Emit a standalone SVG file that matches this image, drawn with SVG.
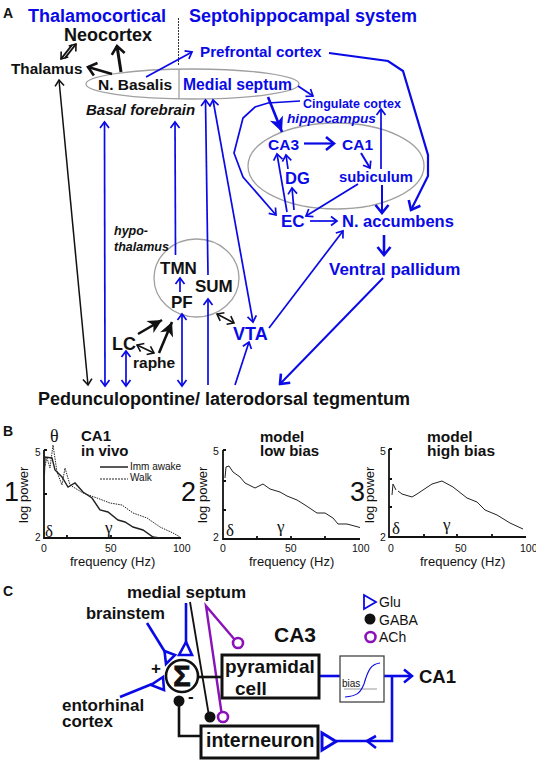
<svg xmlns="http://www.w3.org/2000/svg" width="536" height="763" viewBox="0 0 536 763">
<style>
text{font-family:"Liberation Sans",Arial,sans-serif;font-weight:700;fill:#111}
.b{fill:#0a0ae6}
.i{font-style:italic}
.n{font-weight:400}
.g{font-family:"Liberation Serif","Times New Roman",serif;font-weight:400;font-size:17px}
.l{fill:none;stroke:#0a0ae6;stroke-width:1.7}
.t{fill:none;stroke:#0a0ae6;stroke-width:2.6}
.k{fill:none;stroke:#111;stroke-width:1.5}
.kt{fill:none;stroke:#111;stroke-width:2.6}
.p{fill:none;stroke:#8a12b8;stroke-width:2.4}
.gr{fill:none;stroke:#a0a0a0;stroke-width:1.3}
.ax{fill:none;stroke:#111;stroke-width:1.8}
.cv{fill:none;stroke:#222;stroke-width:1}
.glu{fill:#fff;stroke:#0a0ae6;stroke-width:2.6}
.box{fill:#fff;stroke:#111;stroke-width:3}
</style>
<defs>
<marker id="ab" markerUnits="userSpaceOnUse" markerWidth="12" markerHeight="12" refX="10" refY="6" orient="auto-start-reverse"><path d="M4,1.5L10,6L4,10.5" fill="none" stroke="#0a0ae6" stroke-width="1.7"/></marker>
<marker id="abt" markerUnits="userSpaceOnUse" markerWidth="16" markerHeight="16" refX="14" refY="8" orient="auto-start-reverse"><path d="M6,1.5L14,8L6,14.5" fill="none" stroke="#0a0ae6" stroke-width="2.6"/></marker>
<marker id="ak" markerUnits="userSpaceOnUse" markerWidth="12" markerHeight="12" refX="10" refY="6" orient="auto-start-reverse"><path d="M4,1.5L10,6L4,10.5" fill="none" stroke="#111" stroke-width="1.6"/></marker>
<marker id="akt" markerUnits="userSpaceOnUse" markerWidth="16" markerHeight="16" refX="14" refY="8" orient="auto-start-reverse"><path d="M6,1.5L14,8L6,14.5" fill="none" stroke="#111" stroke-width="2.6"/></marker>
<marker id="kf" markerUnits="userSpaceOnUse" markerWidth="18" markerHeight="18" refX="16" refY="9" orient="auto"><path d="M2,2L16,9L2,16L6,9Z" fill="#111"/></marker>
<marker id="bf" markerUnits="userSpaceOnUse" markerWidth="18" markerHeight="18" refX="16" refY="9" orient="auto"><path d="M1,2L16,9L1,16L5,9Z" fill="#0a0ae6"/></marker>
</defs>

<g id="regions">
<path d="M178.5 18V66" stroke="#333" stroke-width="1" stroke-dasharray="2 1" fill="none"/>
<path d="M179 69V99" class="gr"/>
<ellipse cx="192.5" cy="84" rx="106.5" ry="15" class="gr"/>
<ellipse cx="336" cy="166" rx="88" ry="43" class="gr"/>
<ellipse cx="196.5" cy="278" rx="42.5" ry="39" class="gr"/>
</g>

<g id="connectors">
<path class="k" style="stroke-width:2" d="M72 45L61 59" marker-end="url(#ak)"/>
<path class="k" style="stroke-width:2" d="M76 44L65 58" marker-start="url(#ak)"/>
<path class="kt" d="M112 74L88 67" marker-end="url(#akt)"/>
<path class="kt" d="M121 72L117 46" marker-end="url(#akt)" style="stroke-width:3"/>
<path class="k" d="M59 80L88 385" marker-start="url(#ak)" marker-end="url(#ak)"/>
<path class="l" d="M146 77L192 52" marker-end="url(#ab)"/>
<path class="l" d="M104.500 122L105 386" marker-start="url(#ab)" marker-end="url(#ab)"/>
<path class="l" d="M175.500 255L175 122" marker-end="url(#ab)"/>
<path class="l" d="M208 275L205.500 100" marker-end="url(#ab)"/>
<path class="l" d="M213 100L253 322" marker-start="url(#ab)" marker-end="url(#ab)"/>
<path class="l" d="M208 385V299" marker-end="url(#ab)"/>
<path class="l" d="M182 314V386" marker-start="url(#ab)" marker-end="url(#ab)"/>
<path class="l" d="M126 351V386" marker-start="url(#ab)" marker-end="url(#ab)"/>
<path class="l" d="M180 292V278" marker-end="url(#ab)"/>
<path class="kt" d="M138 334L162 320" marker-end="url(#kf)"/>
<path class="kt" d="M159 353L172 322" marker-end="url(#kf)"/>
<path class="k" d="M137 345L154 353" marker-start="url(#ak)" marker-end="url(#ak)"/>
<path class="k" d="M217 314L234 323" marker-start="url(#ak)" marker-end="url(#ak)"/>
<path class="l" d="M235 385L249 342" marker-end="url(#ab)"/>
<path class="l" d="M269 328L343 231" marker-end="url(#ab)"/>
<path class="t" d="M384 235V255" marker-end="url(#abt)"/>
<path class="l" d="M383 278L280 384" style="stroke-width:2" marker-end="url(#abt)"/>
<path class="l" d="M310 221H337" marker-end="url(#ab)"/>
<path class="l" d="M329 53L388 61L403 71L428 155L428 176L411 210" style="stroke-width:2.2" marker-end="url(#abt)"/>
<path class="l" d="M298 86L313 96" marker-end="url(#ab)"/>
<path class="l" d="M300 101L268 103L255 107L243 118L234 153L243 177L276 215" marker-end="url(#ab)"/>
<path class="t" d="M268 97L282 132" marker-end="url(#bf)"/>
<path class="l" d="M304 143.500H334" style="stroke-width:2.2" marker-end="url(#abt)"/>
<path class="l" d="M361 153L370 168" style="stroke-width:2" marker-end="url(#ab)"/>
<path class="l" d="M287 212L277 154" marker-end="url(#ab)"/>
<path class="l" d="M288 169L286 155" marker-end="url(#ab)"/>
<path class="l" d="M294 210L292 188" marker-end="url(#ab)"/>
<path class="l" d="M358 184L306 216" marker-end="url(#ab)"/>
<path class="l" d="M381 169V109" marker-end="url(#ab)"/>
<path class="l" d="M382 185V213" style="stroke-width:2" marker-end="url(#abt)"/>
</g>

<g id="panel-a-headings">
<text x="3" y="18" font-size="14">A</text>
<text x="28" y="22" font-size="18" class="b">Thalamocortical</text>
<text x="189" y="22" font-size="18" class="b">Septohippocampal system</text>
</g>
<g id="neocortex"><text x="64" y="41" font-size="18">Neocortex</text></g>
<g id="thalamus"><text x="11" y="74" font-size="15.300">Thalamus</text></g>
<g id="n-basalis"><text x="98" y="90" font-size="15.500">N. Basalis</text></g>
<g id="medial-septum"><text x="183" y="90" font-size="15.700" class="b">Medial septum</text></g>
<g id="prefrontal-cortex"><text x="200" y="57" font-size="15.200" class="b">Prefrontal cortex</text></g>
<g id="basal-forebrain"><text x="86" y="115" font-size="15" class="i">Basal forebrain</text></g>
<g id="cingulate-cortex"><text x="303" y="108" font-size="12.500" class="b">Cingulate cortex</text></g>
<g id="hippocampus"><text x="287" y="123" font-size="13.700" class="b i">hippocampus</text></g>
<g id="ca3"><text x="268" y="150" font-size="15.500" class="b">CA3</text></g>
<g id="ca1"><text x="342" y="150" font-size="15.500" class="b">CA1</text></g>
<g id="dg"><text x="285" y="184" font-size="16.500" class="b">DG</text></g>
<g id="subiculum"><text x="339" y="182" font-size="14.800" class="b">subiculum</text></g>
<g id="ec"><text x="281" y="227" font-size="17" class="b">EC</text></g>
<g id="n-accumbens"><text x="342" y="227" font-size="16.500" class="b">N. accumbens</text></g>
<g id="ventral-pallidum"><text x="329" y="275" font-size="17" class="b">Ventral pallidum</text></g>
<g id="hypothalamus"><text x="114" y="235" font-size="12.500" class="i">hypo-</text><text x="114" y="251" font-size="12.500" class="i">thalamus</text></g>
<g id="tmn"><text x="160" y="274" font-size="17">TMN</text></g>
<g id="sum"><text x="195" y="292" font-size="17">SUM</text></g>
<g id="pf"><text x="171" y="308" font-size="17">PF</text></g>
<g id="lc"><text x="112" y="350" font-size="18">LC</text></g>
<g id="raphe"><text x="133" y="368" font-size="15.500">raphe</text></g>
<g id="vta"><text x="233" y="340" font-size="18" class="b">VTA</text></g>
<g id="ppt"><text x="38" y="405" font-size="18">Pedunculopontine/ laterodorsal tegmentum</text></g>

<g id="panel-b-label"><text x="3" y="436" font-size="14">B</text></g>

<g id="plot-1">
<text x="4" y="501" font-size="27" class="n">1</text>
<text x="50" y="442" class="g" style="font-size:18px">θ</text>
<text x="81" y="441" font-size="15">CA1</text>
<text x="81" y="456" font-size="15">in vivo</text>
<path class="ax" d="M44 450V538H181M44 450H47M44 494H47M111 538V535M67 538V535"/>
<text x="35" y="456" font-size="10" class="n">5</text>
<text x="35" y="541" font-size="10" class="n">2</text>
<text x="41" y="552" font-size="10.500" class="n">0</text>
<text x="105" y="552" font-size="10.500" class="n">50</text>
<text x="173" y="552" font-size="10.500" class="n">100</text>
<text x="70" y="566" font-size="13" class="n">frequency (Hz)</text>
<text transform="translate(28 523) rotate(-90)" font-size="13" class="n">log power</text>
<path class="cv" style="stroke-width:1.4" d="M44.300 475L45 457L52 458L55 470L62 477L68 487L75 483L83 492L92 498L100 510L108 512L118 520L125 522L133 527L143 530L153 537L160 538"/>
<path class="cv" stroke-dasharray="1.500 1" d="M44.300 468L47 458L50 468L53 445L57 472L62 485L65 468L70 485L83 493L97 498L110 503L122 505L133 513L147 518L160 527L173 533L180 537"/>
<path d="M100 467H128" class="cv" style="stroke-width:1.5"/>
<path d="M100 479H128" class="cv" stroke-dasharray="2 1"/>
<text x="130" y="470" font-size="10" class="n">Imm awake</text>
<text x="130" y="481" font-size="10" class="n">Walk</text>
<text x="45" y="537" class="g">δ</text>
<text x="105" y="533" class="g">γ</text>
</g>

<g id="plot-2">
<text x="181" y="501" font-size="27" class="n">2</text>
<text x="260" y="442" font-size="15">model</text>
<text x="260" y="456" font-size="15">low bias</text>
<path class="ax" d="M223 450V539H360M223 450H226M223 481H226M223 510H226M257 539V536M291 539V536M325 539V536"/>
<text x="213" y="455" font-size="10.500" class="n">5</text>
<text x="213" y="541" font-size="10.500" class="n">2</text>
<text x="220" y="552" font-size="10.500" class="n">0</text>
<text x="285" y="552" font-size="10.500" class="n">50</text>
<text x="352" y="552" font-size="10.500" class="n">100</text>
<text x="249" y="566" font-size="13" class="n">frequency (Hz)</text>
<text transform="translate(207 523) rotate(-90)" font-size="13" class="n">log power</text>
<path class="cv" d="M225 478L226 467L229 466L233 472L240 477L245 483L255 488L263 484L270 489L280 492L287 496L297 500L305 505L317 513L325 513L333 518L338 524L347 524L360 527.500"/>
<text x="226" y="536" class="g">δ</text>
<text x="277" y="532" class="g">γ</text>
</g>

<g id="plot-3">
<text x="350" y="501" font-size="27" class="n">3</text>
<text x="427" y="442" font-size="15.500">model</text>
<text x="427" y="456" font-size="15.500">high bias</text>
<path class="ax" d="M389 449V537H526M389 449H392M389 479H392M389 507H392M424 537V534M457 537V534M492 537V534"/>
<text x="380" y="455" font-size="10.500" class="n">5</text>
<text x="380" y="541" font-size="10.500" class="n">2</text>
<text x="388" y="552" font-size="10.500" class="n">0</text>
<text x="455" y="552" font-size="10.500" class="n">50</text>
<text x="520" y="552" font-size="10.500" class="n">100</text>
<text x="420" y="566" font-size="13" class="n">frequency (Hz)</text>
<text transform="translate(374 523) rotate(-90)" font-size="13" class="n">log power</text>
<path class="cv" d="M392 495L393 484L396 490M398 491L402 494L412 497L417 494L423 490L432 484L442 481L453 487L467 498L477 502L485 510L497 515L510 523L523 529"/>
<text x="392" y="534" class="g">δ</text>
<text x="443" y="530" class="g">γ</text>
</g>

<g id="panel-c-label"><text x="3" y="596" font-size="14">C</text></g>
<g id="c-connectors">
<path class="t" d="M147 623L165 652"/>
<path class="t" d="M186 603V643"/>
<path class="t" d="M120 697L152 684"/>
<path class="k" style="stroke-width:1.8" d="M190 602L209 716"/>
<path class="p" d="M222 716L206 606L235 640"/>
<path class="kt" d="M199 677H222"/>
<path class="kt" d="M179 701V736H201"/>
<path class="t" d="M320 676H340"/>
<path class="t" d="M384 676H412" marker-end="url(#abt)"/>
<path class="t" d="M392 676V741H336"/>
<path class="t" d="M376 736L367 741L376 748"/>
</g>
<g id="c-brainstem"><text x="86" y="619" font-size="16.500">brainstem</text><path class="glu" d="M164.500 651L175 655L166 664Z"/></g>
<g id="c-medial-septum"><text x="127" y="598" font-size="17">medial septum</text><path class="glu" d="M186 642L179 655H192Z"/></g>
<g id="c-entorhinal"><text x="62" y="711" font-size="17">entorhinal</text><text x="62" y="727" font-size="17">cortex</text><path class="glu" d="M163 677L164 690L151 685Z"/></g>
<g id="c-summation">
<circle cx="182" cy="676" r="16" fill="#fff" stroke="#111" stroke-width="2.6"/>
<text x="182" y="686" font-size="29" text-anchor="middle" style="stroke:#111;stroke-width:.8">Σ</text>
<text x="151" y="674" font-size="17">+</text>
<text x="188" y="702" font-size="17">-</text>
<circle cx="179" cy="701" r="5.500" fill="#111"/>
</g>
<g id="c-pyramidal"><rect class="box" x="222" y="655" width="97" height="43"/><text x="225" y="673" font-size="19">pyramidal</text><text x="235" y="695" font-size="19">cell</text></g>
<g id="c-ca3"><text x="274" y="642" font-size="21">CA3</text></g>
<g id="c-interneuron"><rect class="box" x="201" y="726" width="117" height="32"/><text x="206" y="747" font-size="19.500">interneuron</text></g>
<g id="c-ms-terminals">
<circle cx="210" cy="717" r="5.500" fill="#111"/>
<circle cx="223" cy="717" r="5" fill="#fff" stroke="#8a12b8" stroke-width="2.6"/>
<circle cx="238" cy="643" r="5" fill="#fff" stroke="#8a12b8" stroke-width="2.6"/>
</g>
<g id="c-bias">
<rect x="340" y="656" width="44" height="46" fill="#fff" stroke="#444" stroke-width="1.3"/>
<path d="M344 689H377" stroke="#999" fill="none"/>
<path d="M345 697C356 696 360 694 364 684C368 670 371 664 380 663" fill="none" stroke="#0a0ae6" stroke-width="1.100"/>
<text x="342" y="687" font-size="10" class="n">bias</text>
</g>
<g id="c-glu-synapse"><path class="glu" style="stroke-width:3" d="M322 733V750L336 741.500Z"/></g>
<g id="c-ca1"><text x="419" y="683" font-size="18.500">CA1</text></g>
<g id="legend">
<path class="glu" style="stroke-width:1.8" d="M364 595V609L376 602Z"/>
<text x="379" y="607" font-size="14" class="n">Glu</text>
<circle cx="370" cy="619" r="5.500" fill="#111"/>
<text x="379" y="625" font-size="14" class="n">GABA</text>
<circle cx="370.500" cy="637" r="5" fill="#fff" stroke="#8a12b8" stroke-width="2.6"/>
<text x="379" y="642" font-size="14" class="n">ACh</text>
</g>
</svg>
